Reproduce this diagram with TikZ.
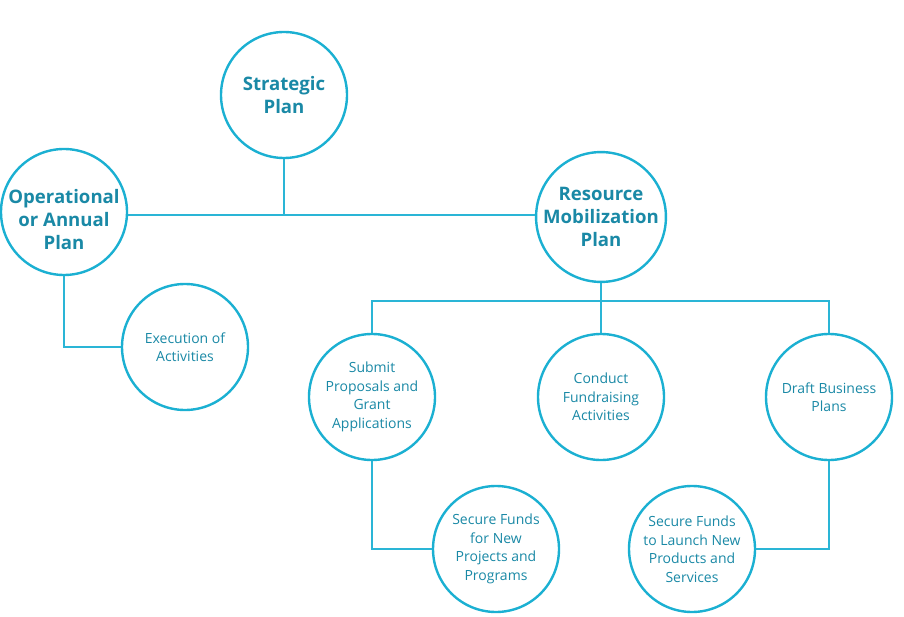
\documentclass[tikz,border=0pt]{standalone}
\usepackage{fontspec}
\setmainfont{Open Sans}
\definecolor{ring}{HTML}{1BB0D2}
\definecolor{txt}{HTML}{1A89A6}
\definecolor{wire}{HTML}{2AB5D6}
\begin{document}
\begin{tikzpicture}[x=1pt,y=-1pt,
  bubble/.style={circle,draw=ring,line width=2.4pt,minimum size=126pt,inner sep=0pt,align=center,text=txt,fill=white},
  bigfont/.style={font=\fontsize{18.6}{23}\selectfont\bfseries},
  big/.style={bubble,bigfont},
  small/.style={bubble,font=\fontsize{14}{18.5}\selectfont},
  link/.style={draw=wire,line width=1.3pt}]
\useasboundingbox[fill=white] (0,0) rectangle (904,617);
\node[big] (sp) at (284,95) {Strategic\\Plan};
\node[big] (op) at (64,212) {};
\node[bigfont,align=center,text=txt,inner sep=0pt] (optext) at (64,220) {Operational\\or Annual\\Plan};
\node[big] (rm) at (601,217) {Resource\\Mobilization\\Plan};
\node[small] (ex) at (185,347) {Execution of\\Activities};
\node[small] (su) at (372,397) {Submit\\Proposals and\\Grant\\Applications};
\node[small] (co) at (601,397) {Conduct\\Fundraising\\Activities};
\node[small] (dr) at (829,397) {Draft Business\\Plans};
\node[small] (sf) at (496,549) {Secure Funds\\for New\\Projects and\\Programs};
\node[small] (sl) at (692,549) {Secure Funds\\to Launch New\\Products and\\Services};
\coordinate (j1) at (284,215);
\coordinate (j2) at (601,301);
\draw[link] (op.east |- j1) -- (rm.west |- j1);
\draw[link] (sp.south) -- (j1);
\draw[link] (op.south) |- (ex.west);
\draw[link] (rm.south) -- (j2);
\draw[link] (su.north) -- (su.north |- j2) -- (dr.north |- j2) -- (dr.north);
\draw[link] (j2) -- (co.north);
\draw[link] (su.south) |- (sf.west);
\draw[link] (dr.south) |- (sl.east);
\end{tikzpicture}
\end{document}
